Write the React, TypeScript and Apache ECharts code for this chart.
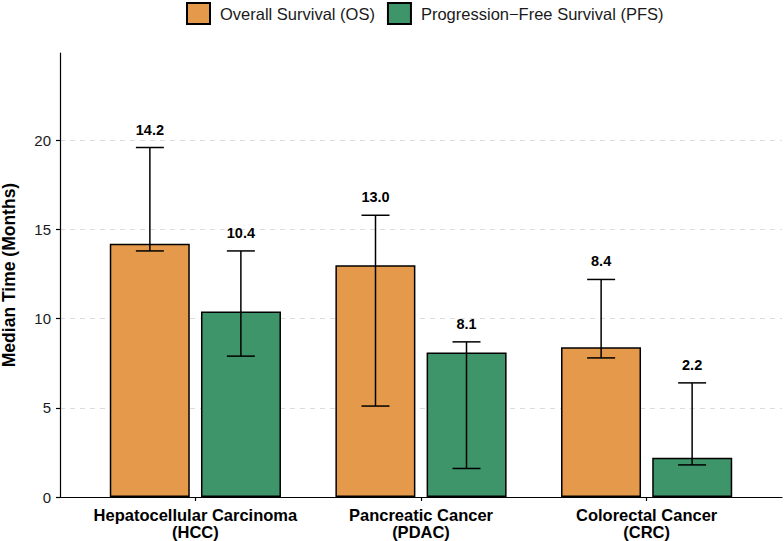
import React, { useEffect, useRef } from "react";
import * as echarts from "echarts";

const categories = ["Hepatocellular Carcinoma\n(HCC)", "Pancreatic Cancer\n(PDAC)", "Colorectal Cancer\n(CRC)"];
const categoryPositions = [1, 2, 3];
const osMedian = [14.2, 13.0, 8.4];
const osLower = [13.8, 5.1, 7.8];
const osUpper = [19.6, 15.8, 12.2];
const pfsMedian = [10.4, 8.1, 2.2];
const pfsLower = [7.9, 1.6, 1.8];
const pfsUpper = [13.8, 8.7, 6.4];
const yTicks = [0, 5, 10, 15, 20];

const FONT = "'Liberation Sans', Arial, Helvetica, sans-serif";
const OS_COLOR = "#E5994A";
const PFS_COLOR = "#3F956A";

function errorSeries(name: string, med: number[], lo: number[], hi: number[], offset: number) {
  return {
    type: "custom",
    name: name + "_err",
    silent: true,
    z: 5,
    data: categoryPositions.map((x, i) => [x, lo[i], hi[i], med[i]]),
    renderItem: (params: any, api: any) => {
      const x = api.value(0);
      const pLo = api.coord([x, api.value(1)]);
      const pHi = api.coord([x, api.value(2)]);
      const cx = pLo[0] + offset;
      const cap = 14;
      const style = { stroke: "#000", lineWidth: 1.5 };
      return {
        type: "group",
        children: [
          { type: "line", shape: { x1: cx, y1: pLo[1], x2: cx, y2: pHi[1] }, style },
          { type: "line", shape: { x1: cx - cap, y1: pLo[1], x2: cx + cap, y2: pLo[1] }, style },
          { type: "line", shape: { x1: cx - cap, y1: pHi[1], x2: cx + cap, y2: pHi[1] }, style },
          {
            type: "text",
            x: cx,
            y: pHi[1] - 18,
            style: {
              text: api.value(3).toFixed(1),
              fontFamily: FONT,
              fontWeight: "bold",
              fontSize: 14.5,
              fill: "#000",
              align: "center",
              verticalAlign: "middle",
            },
          },
        ],
      };
    },
  };
}

export default function App() {
  const ref = useRef<HTMLDivElement>(null);
  useEffect(() => {
    if (!ref.current) return;
    document.body.style.margin = "0";
    const chart = echarts.init(ref.current, undefined, { renderer: "svg" });
    chart.setOption({
      animation: false,
      textStyle: { fontFamily: FONT },
      legend: {
        top: 2,
        left: 186,
        padding: 0,
        itemWidth: 23,
        itemHeight: 21,
        itemGap: 12,
        icon: "rect",
        data: ["Overall Survival (OS)", "Progression\u2212Free Survival (PFS)"],
        textStyle: { fontFamily: FONT, fontSize: 16.5, color: "#1a1a1a", padding: [0, 0, 0, 5] },
      },
      grid: { left: 60, right: 2, top: 53, bottom: 44, containLabel: false, outerBoundsMode: "none" },
      xAxis: {
        type: "value",
        min: 0.4,
        max: 3.6,
        splitLine: { show: false },
        axisLine: { show: true, onZero: false, lineStyle: { color: "#000", width: 1.2 } },
        axisTick: { show: true, length: 4, customValues: categoryPositions, lineStyle: { color: "#000", width: 1.2 } },
        axisLabel: {
          customValues: categoryPositions,
          formatter: (v: number) => categories[Math.round(v) - 1] ?? "",
          fontFamily: FONT,
          fontWeight: "bold",
          fontSize: 16.5,
          color: "#000",
          lineHeight: 17,
          margin: 9,
        },
      },
      yAxis: {
        type: "value",
        min: 0,
        max: 24.9,
        interval: 5,
        name: "Median Time (Months)",
        nameLocation: "middle",
        nameGap: 42,
        nameTextStyle: { fontFamily: FONT, fontWeight: "bold", fontSize: 17.5, color: "#000" },
        axisLine: { show: true, lineStyle: { color: "#000", width: 1.2 } },
        axisTick: { show: true, length: 4, customValues: yTicks, lineStyle: { color: "#000", width: 1.2 } },
        axisLabel: { customValues: yTicks, fontFamily: FONT, fontSize: 15, color: "#1a1a1a", margin: 9 },
        splitLine: {
          show: true,
          showMinLine: false,
          lineStyle: { color: "#dcdcdc", type: [5, 5], width: 1 },
        },
      },
      series: [
        {
          type: "bar",
          name: "Overall Survival (OS)",
          data: categoryPositions.map((x, i) => [x, osMedian[i]]),
          barWidth: 80,
          barGap: "14%",
          itemStyle: { color: OS_COLOR, borderColor: "#000", borderWidth: 1.5 },
        },
        {
          type: "bar",
          name: "Progression\u2212Free Survival (PFS)",
          data: categoryPositions.map((x, i) => [x, pfsMedian[i]]),
          barWidth: 80,
          barGap: "14%",
          itemStyle: { color: PFS_COLOR, borderColor: "#000", borderWidth: 1.5 },
        },
        errorSeries("os", osMedian, osLower, osUpper, -45.5),
        errorSeries("pfs", pfsMedian, pfsLower, pfsUpper, 45.5),
      ],
    });
    return () => chart.dispose();
  }, []);
  return <div ref={ref} style={{ width: 784, height: 541 }} />;
}
